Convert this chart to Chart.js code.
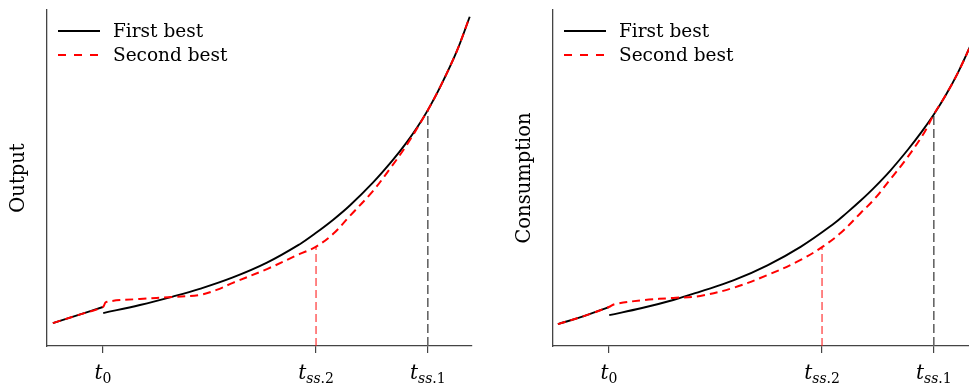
<!DOCTYPE html>
<html><head><meta charset="utf-8">
<script src="https://cdn.jsdelivr.net/npm/chart.js@4.4.1/dist/chart.umd.min.js"></script>
<style>
html,body{margin:0;padding:0;background:#fff;overflow:hidden;width:969px;height:386px;}
#wrap{position:relative;width:969px;height:386px;overflow:hidden;}
.box{position:absolute;top:0;width:485px;height:386px;}
</style></head><body>
<div id="wrap">
<div class="box" style="left:0"><canvas id="c1" width="485" height="386"></canvas></div>
<div class="box" style="left:506px"><canvas id="c2" width="485" height="386"></canvas></div>
</div>
<script>
// ---- data ----
const tickValues = [0, 6.56, 10];
const tickLabels = ['t_0', 't_ss.2', 't_ss.1'];
const seriesLabels = ['First best', 'Second best'];
const yTitles = ['Output', 'Consumption'];

// Output panel
const outFirstT  = [-1.54, -0.77, 0, 0.005, 0.01, 1.14, 2.15, 2.98, 4.0, 5.05, 6.06, 6.55, 7.08, 7.6, 8.31, 8.92, 9.35, 9.69, 10.0, 10.37, 10.89, 11.29];
const outFirstY  = [6.8, 9.2, 11.6, null, 9.8, 12.2, 14.7, 17.0, 20.4, 24.8, 30.3, 33.6, 37.5, 41.8, 48.6, 55.3, 60.6, 65.3, 70.2, 76.9, 87.7, 98.0];
const outSecondT = [-1.54, -0.77, 0, 0.1, 1.14, 2.15, 2.98, 3.5, 4.0, 5.05, 6.06, 6.55, 7.08, 7.6, 8.31, 8.83, 9.35, 10.0, 10.37, 10.89, 11.29];
const outSecondY = [6.8, 9.2, 11.6, 13.1, 14.0, 14.6, 15.2, 16.7, 18.8, 22.9, 27.4, 29.5, 33.3, 38.7, 46.1, 52.7, 59.8, 70.2, 76.9, 87.7, 98.0];
const outMarkY   = [29.5, 70.2];   // second-best level at t_ss.2 and t_ss.1

// Consumption panel
const conFirstT  = [-1.57, -0.77, 0, 0.005, 0.01, 1.02, 1.98, 2.81, 3.83, 4.88, 5.9, 6.91, 7.33, 7.75, 8.15, 8.67, 9.2, 9.63, 10.0, 10.37, 10.74, 11.11, 11.39];
const conFirstY  = [6.5, 8.9, 11.6, null, 9.2, 11.3, 13.7, 16.2, 19.5, 24.0, 29.5, 36.3, 39.7, 43.3, 47.0, 52.3, 58.4, 63.8, 68.9, 74.7, 81.3, 89.0, 95.6];
const conSecondT = [-1.57, -0.77, 0, 0.19, 1.11, 1.98, 2.81, 3.83, 4.88, 5.9, 6.57, 7.13, 7.75, 8.15, 8.67, 9.2, 9.7, 10.0, 10.37, 10.74, 11.11, 11.39];
const conSecondY = [6.5, 8.9, 11.6, 12.5, 13.7, 14.3, 14.9, 17.3, 21.1, 25.6, 29.5, 33.6, 39.6, 43.5, 49.7, 56.3, 63.4, 68.9, 74.7, 81.3, 89.0, 95.6];
const conMarkY   = [29.5, 68.9];

const X_MIN = -1.72, X_MAX = 11.36, Y_MIN = 0, Y_MAX = 100;
const SERIF = '"DejaVu Serif", "Liberation Serif", serif';

function pts(xs, ys){ return xs.map((x,i)=>({x:x, y:ys[i]})); }

const decorPlugin = {
  id: 'decor',
  afterDraw(chart) {
    const ctx = chart.ctx, area = chart.chartArea;
    ctx.save();
    // legend inside plot area, top-left
    let row = 0;
    chart.data.datasets.forEach(ds => {
      if (!ds.label) return;
      const y = area.top + 21 + row * 24;
      ctx.beginPath();
      ctx.setLineDash(ds.legendDash || []);
      ctx.strokeStyle = ds.borderColor;
      ctx.lineWidth = ds.borderWidth;
      ctx.moveTo(area.left + 11, y);
      ctx.lineTo(area.left + 53, y);
      ctx.stroke();
      ctx.setLineDash([]);
      ctx.fillStyle = '#000';
      ctx.font = '18.5px ' + SERIF;
      ctx.textBaseline = 'middle';
      ctx.textAlign = 'left';
      ctx.fillText(ds.label, area.left + 66, y + 1);
      row++;
    });
    // math tick labels with subscripts
    const xs = chart.scales.x;
    ctx.textBaseline = 'alphabetic';
    ctx.textAlign = 'left';
    tickValues.forEach((v, i) => {
      const parts = tickLabels[i].split('_');
      const main = parts[0], sub = parts[1] || '';
      const runs = [];
      runs.push({t: main, f: 'italic 20px ' + SERIF, dy: 0});
      let cur = '', curIt = null;
      for (const ch of sub) {
        const it = /[a-z]/i.test(ch);
        if (curIt !== null && it !== curIt) { runs.push({t: cur, f: (curIt ? 'italic ' : '') + '14px ' + SERIF, dy: 4}); cur = ''; }
        cur += ch; curIt = it;
      }
      if (cur) runs.push({t: cur, f: (curIt ? 'italic ' : '') + '14px ' + SERIF, dy: 4});
      let total = 0;
      runs.forEach(r => { ctx.font = r.f; r.w = ctx.measureText(r.t).width; total += r.w; });
      let x = xs.getPixelForValue(v) - total / 2;
      ctx.fillStyle = '#000';
      runs.forEach(r => { ctx.font = r.f; ctx.fillText(r.t, x, 379 + r.dy); x += r.w; });
    });
    ctx.restore();
  }
};

function makeChart(id, title, fT, fY, sT, sY, markY) {
  const datasets = [
    { label: seriesLabels[0], data: pts(fT, fY), borderColor: '#000', borderWidth: 1.9,
      pointRadius: 0, tension: 0.4, spanGaps: false, fill: false, order: 2 },
    { label: seriesLabels[1], data: pts(sT, sY), borderColor: '#ff0000', borderWidth: 2,
      borderDash: [8, 5], legendDash: [8, 8], pointRadius: 0, tension: 0.35, fill: false, order: 1 },
    { label: '', data: [{x: tickValues[1], y: Y_MIN}, {x: tickValues[1], y: markY[0]}], borderColor: 'rgba(255,30,30,0.9)',
      borderWidth: 1.2, borderDash: [8, 4], pointRadius: 0, fill: false, order: 3 },
    { label: '', data: [{x: tickValues[2], y: Y_MIN}, {x: tickValues[2], y: markY[1]}], borderColor: '#666',
      borderWidth: 1.6, borderDash: [9, 4], pointRadius: 0, fill: false, order: 3 }
  ];
  return new Chart(document.getElementById(id), {
    type: 'line',
    data: { datasets },
    plugins: [decorPlugin],
    options: {
      responsive: false, animation: false, devicePixelRatio: 1,
      layout: { padding: { top: 10, right: 13, left: 0, bottom: 0 } },
      plugins: { legend: { display: false }, tooltip: { enabled: false } },
      scales: {
        x: {
          type: 'linear', min: X_MIN, max: X_MAX,
          afterBuildTicks: s => { s.ticks = tickValues.map(v => ({value: v})); },
          afterFit: s => { s.height = 40; },
          ticks: { display: false },
          grid: { display: true, drawOnChartArea: false, drawTicks: true, tickLength: 7, color: '#444', lineWidth: 1.2 },
          border: { display: true, color: '#444', width: 1.3 }
        },
        y: {
          type: 'linear', min: Y_MIN, max: Y_MAX,
          afterFit: s => { s.width = 47; },
          ticks: { display: false },
          grid: { display: false },
          border: { display: true, color: '#444', width: 1.3 },
          title: { display: true, text: title, color: '#000', font: { family: SERIF, size: 19.5 }, padding: { top: 7, bottom: 0 } }
        }
      }
    }
  });
}

makeChart('c1', yTitles[0], outFirstT, outFirstY, outSecondT, outSecondY, outMarkY);
makeChart('c2', yTitles[1], conFirstT, conFirstY, conSecondT, conSecondY, conMarkY);
</script>
</body></html>
